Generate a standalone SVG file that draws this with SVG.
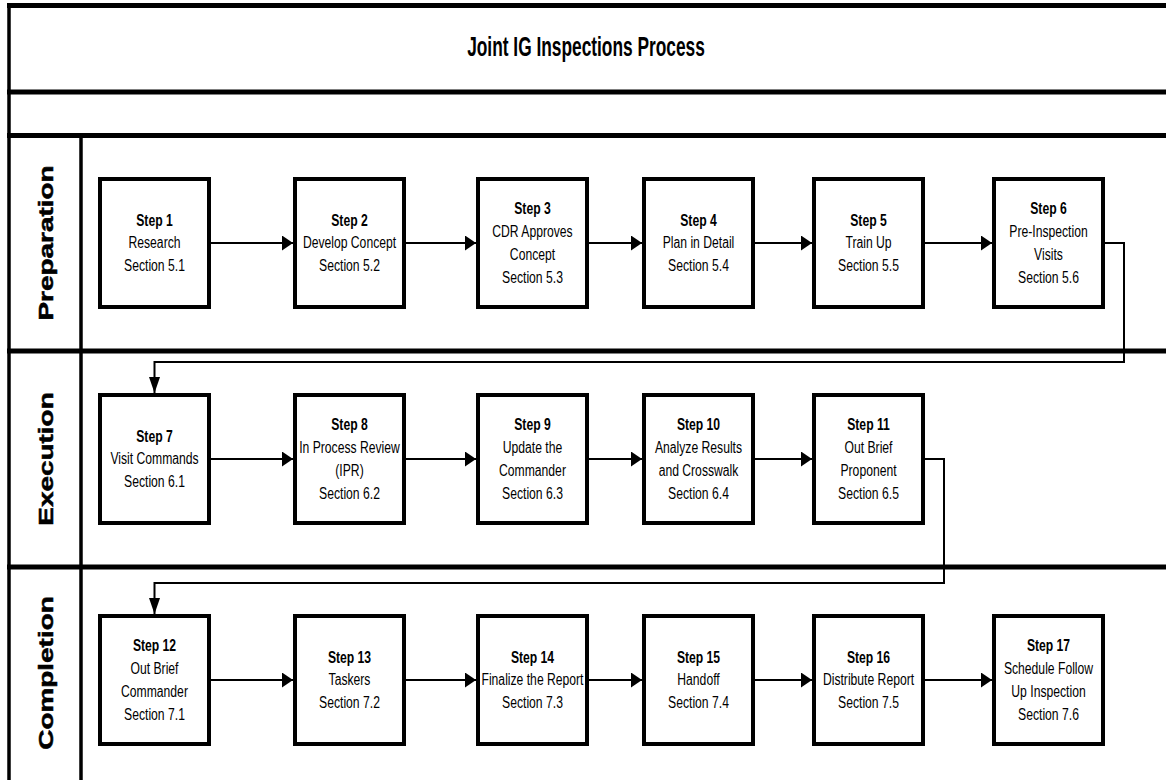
<svg xmlns="http://www.w3.org/2000/svg" width="1166" height="780" viewBox="0 0 1166 780">
<style>
.frame{stroke:#000;stroke-width:5;fill:none}
.col{stroke:#000;stroke-width:3.5;fill:none}
.box{fill:#fff;stroke:#000;stroke-width:4}
.t{font-family:"Liberation Sans",Arial,Helvetica,sans-serif;font-size:16px;text-anchor:middle;fill:#000}
.b{font-weight:bold}
.title{font-family:"Liberation Sans",Arial,Helvetica,sans-serif;font-size:27.5px;font-weight:bold;text-anchor:middle;fill:#000}
.lanet{font-family:"Liberation Sans",Arial,Helvetica,sans-serif;font-size:21px;font-weight:bold;text-anchor:middle;fill:#000;stroke:#000;stroke-width:0.5}
.conn{fill:none;stroke:#000;stroke-width:2}
.h{marker-end:url(#ah)}
.v{marker-end:url(#av)}
</style>
<defs>
<marker id="ah" markerUnits="userSpaceOnUse" markerWidth="12" markerHeight="16" refX="11" refY="7.5" orient="auto"><path d="M0,0 L11,7.5 L0,15 Z" fill="#000"/></marker>
<marker id="av" markerUnits="userSpaceOnUse" markerWidth="17" markerHeight="12" refX="16" refY="5.5" orient="auto"><path d="M0,0 L16,5.5 L0,11 Z" fill="#000"/></marker>
</defs>
<rect width="1166" height="780" fill="#fff"/>
<g id="frame">
<line class="frame" x1="7" y1="5.5" x2="1166" y2="5.5"/>
<line class="frame" x1="7" y1="92" x2="1166" y2="92"/>
<line class="frame" x1="7" y1="135.5" x2="1166" y2="135.5"/>
<line class="frame" x1="7" y1="351" x2="1166" y2="351"/>
<line class="frame" x1="7" y1="567" x2="1166" y2="567"/>
<line class="col" x1="9" y1="3" x2="9" y2="780"/>
<line class="col" x1="81" y1="135.5" x2="81" y2="780"/>
<g transform="translate(586 0) scale(0.63 1)"><text class="title" x="0" y="56">Joint IG Inspections Process</text></g>
</g>
<g id="lane-preparation"><text class="lanet" transform="translate(53 243) rotate(-90) scale(1.33 1)" x="0" y="0">Preparation</text></g>
<g id="lane-execution"><text class="lanet" transform="translate(53 459) rotate(-90) scale(1.33 1)" x="0" y="0">Execution</text></g>
<g id="lane-completion"><text class="lanet" transform="translate(53 673) rotate(-90) scale(1.33 1)" x="0" y="0">Completion</text></g>

<g id="connectors">
<path class="conn h" d="M211 243 H293"/>
<path class="conn h" d="M406 243 H476"/>
<path class="conn h" d="M589 243 H642"/>
<path class="conn h" d="M755 243 H812"/>
<path class="conn h" d="M925 243 H992"/>
<path class="conn v" d="M1105 243 H1124 V362 H154.5 V393"/>
<path class="conn h" d="M211 459 H293"/>
<path class="conn h" d="M406 459 H476"/>
<path class="conn h" d="M589 459 H642"/>
<path class="conn h" d="M755 459 H812"/>
<path class="conn v" d="M925 459 H944 V583 H154.5 V614"/>
<path class="conn h" d="M211 680 H293"/>
<path class="conn h" d="M406 680 H476"/>
<path class="conn h" d="M589 680 H642"/>
<path class="conn h" d="M755 680 H812"/>
<path class="conn h" d="M925 680 H992"/>
</g>

<g id="step1"><rect class="box" x="100" y="179" width="109" height="128"/><g transform="translate(154.5 0) scale(0.76 1)"><text class="t"><tspan class="b" x="0" y="226">Step 1</tspan><tspan x="0" y="248.5">Research</tspan><tspan x="0" y="271">Section 5.1</tspan></text></g></g>
<g id="step2"><rect class="box" x="295" y="179" width="109" height="128"/><g transform="translate(349.5 0) scale(0.76 1)"><text class="t"><tspan class="b" x="0" y="226">Step 2</tspan><tspan x="0" y="248.5">Develop Concept</tspan><tspan x="0" y="271">Section 5.2</tspan></text></g></g>
<g id="step3"><rect class="box" x="478" y="179" width="109" height="128"/><g transform="translate(532.5 0) scale(0.76 1)"><text class="t"><tspan class="b" x="0" y="214">Step 3</tspan><tspan x="0" y="237">CDR Approves</tspan><tspan x="0" y="260">Concept</tspan><tspan x="0" y="283">Section 5.3</tspan></text></g></g>
<g id="step4"><rect class="box" x="644" y="179" width="109" height="128"/><g transform="translate(698.5 0) scale(0.76 1)"><text class="t"><tspan class="b" x="0" y="226">Step 4</tspan><tspan x="0" y="248.5">Plan in Detail</tspan><tspan x="0" y="271">Section 5.4</tspan></text></g></g>
<g id="step5"><rect class="box" x="814" y="179" width="109" height="128"/><g transform="translate(868.5 0) scale(0.76 1)"><text class="t"><tspan class="b" x="0" y="226">Step 5</tspan><tspan x="0" y="248.5">Train Up</tspan><tspan x="0" y="271">Section 5.5</tspan></text></g></g>
<g id="step6"><rect class="box" x="994" y="179" width="109" height="128"/><g transform="translate(1048.5 0) scale(0.76 1)"><text class="t"><tspan class="b" x="0" y="214">Step 6</tspan><tspan x="0" y="237">Pre-Inspection</tspan><tspan x="0" y="260">Visits</tspan><tspan x="0" y="283">Section 5.6</tspan></text></g></g>

<g id="step7"><rect class="box" x="100" y="395" width="109" height="128"/><g transform="translate(154.5 0) scale(0.76 1)"><text class="t"><tspan class="b" x="0" y="442">Step 7</tspan><tspan x="0" y="464.5">Visit Commands</tspan><tspan x="0" y="487">Section 6.1</tspan></text></g></g>
<g id="step8"><rect class="box" x="295" y="395" width="109" height="128"/><g transform="translate(349.5 0) scale(0.76 1)"><text class="t"><tspan class="b" x="0" y="430">Step 8</tspan><tspan x="0" y="453">In Process Review</tspan><tspan x="0" y="476">(IPR)</tspan><tspan x="0" y="499">Section 6.2</tspan></text></g></g>
<g id="step9"><rect class="box" x="478" y="395" width="109" height="128"/><g transform="translate(532.5 0) scale(0.76 1)"><text class="t"><tspan class="b" x="0" y="430">Step 9</tspan><tspan x="0" y="453">Update the</tspan><tspan x="0" y="476">Commander</tspan><tspan x="0" y="499">Section 6.3</tspan></text></g></g>
<g id="step10"><rect class="box" x="644" y="395" width="109" height="128"/><g transform="translate(698.5 0) scale(0.76 1)"><text class="t"><tspan class="b" x="0" y="430">Step 10</tspan><tspan x="0" y="453">Analyze Results</tspan><tspan x="0" y="476">and Crosswalk</tspan><tspan x="0" y="499">Section 6.4</tspan></text></g></g>
<g id="step11"><rect class="box" x="814" y="395" width="109" height="128"/><g transform="translate(868.5 0) scale(0.76 1)"><text class="t"><tspan class="b" x="0" y="430">Step 11</tspan><tspan x="0" y="453">Out Brief</tspan><tspan x="0" y="476">Proponent</tspan><tspan x="0" y="499">Section 6.5</tspan></text></g></g>

<g id="step12"><rect class="box" x="100" y="616" width="109" height="128"/><g transform="translate(154.5 0) scale(0.76 1)"><text class="t"><tspan class="b" x="0" y="651">Step 12</tspan><tspan x="0" y="674">Out Brief</tspan><tspan x="0" y="697">Commander</tspan><tspan x="0" y="720">Section 7.1</tspan></text></g></g>
<g id="step13"><rect class="box" x="295" y="616" width="109" height="128"/><g transform="translate(349.5 0) scale(0.76 1)"><text class="t"><tspan class="b" x="0" y="663">Step 13</tspan><tspan x="0" y="685.5">Taskers</tspan><tspan x="0" y="708">Section 7.2</tspan></text></g></g>
<g id="step14"><rect class="box" x="478" y="616" width="109" height="128"/><g transform="translate(532.5 0) scale(0.76 1)"><text class="t"><tspan class="b" x="0" y="663">Step 14</tspan><tspan x="0" y="685.5">Finalize the Report</tspan><tspan x="0" y="708">Section 7.3</tspan></text></g></g>
<g id="step15"><rect class="box" x="644" y="616" width="109" height="128"/><g transform="translate(698.5 0) scale(0.76 1)"><text class="t"><tspan class="b" x="0" y="663">Step 15</tspan><tspan x="0" y="685.5">Handoff</tspan><tspan x="0" y="708">Section 7.4</tspan></text></g></g>
<g id="step16"><rect class="box" x="814" y="616" width="109" height="128"/><g transform="translate(868.5 0) scale(0.76 1)"><text class="t"><tspan class="b" x="0" y="663">Step 16</tspan><tspan x="0" y="685.5">Distribute Report</tspan><tspan x="0" y="708">Section 7.5</tspan></text></g></g>
<g id="step17"><rect class="box" x="994" y="616" width="109" height="128"/><g transform="translate(1048.5 0) scale(0.76 1)"><text class="t"><tspan class="b" x="0" y="651">Step 17</tspan><tspan x="0" y="674">Schedule Follow</tspan><tspan x="0" y="697">Up Inspection</tspan><tspan x="0" y="720">Section 7.6</tspan></text></g></g>
</svg>
